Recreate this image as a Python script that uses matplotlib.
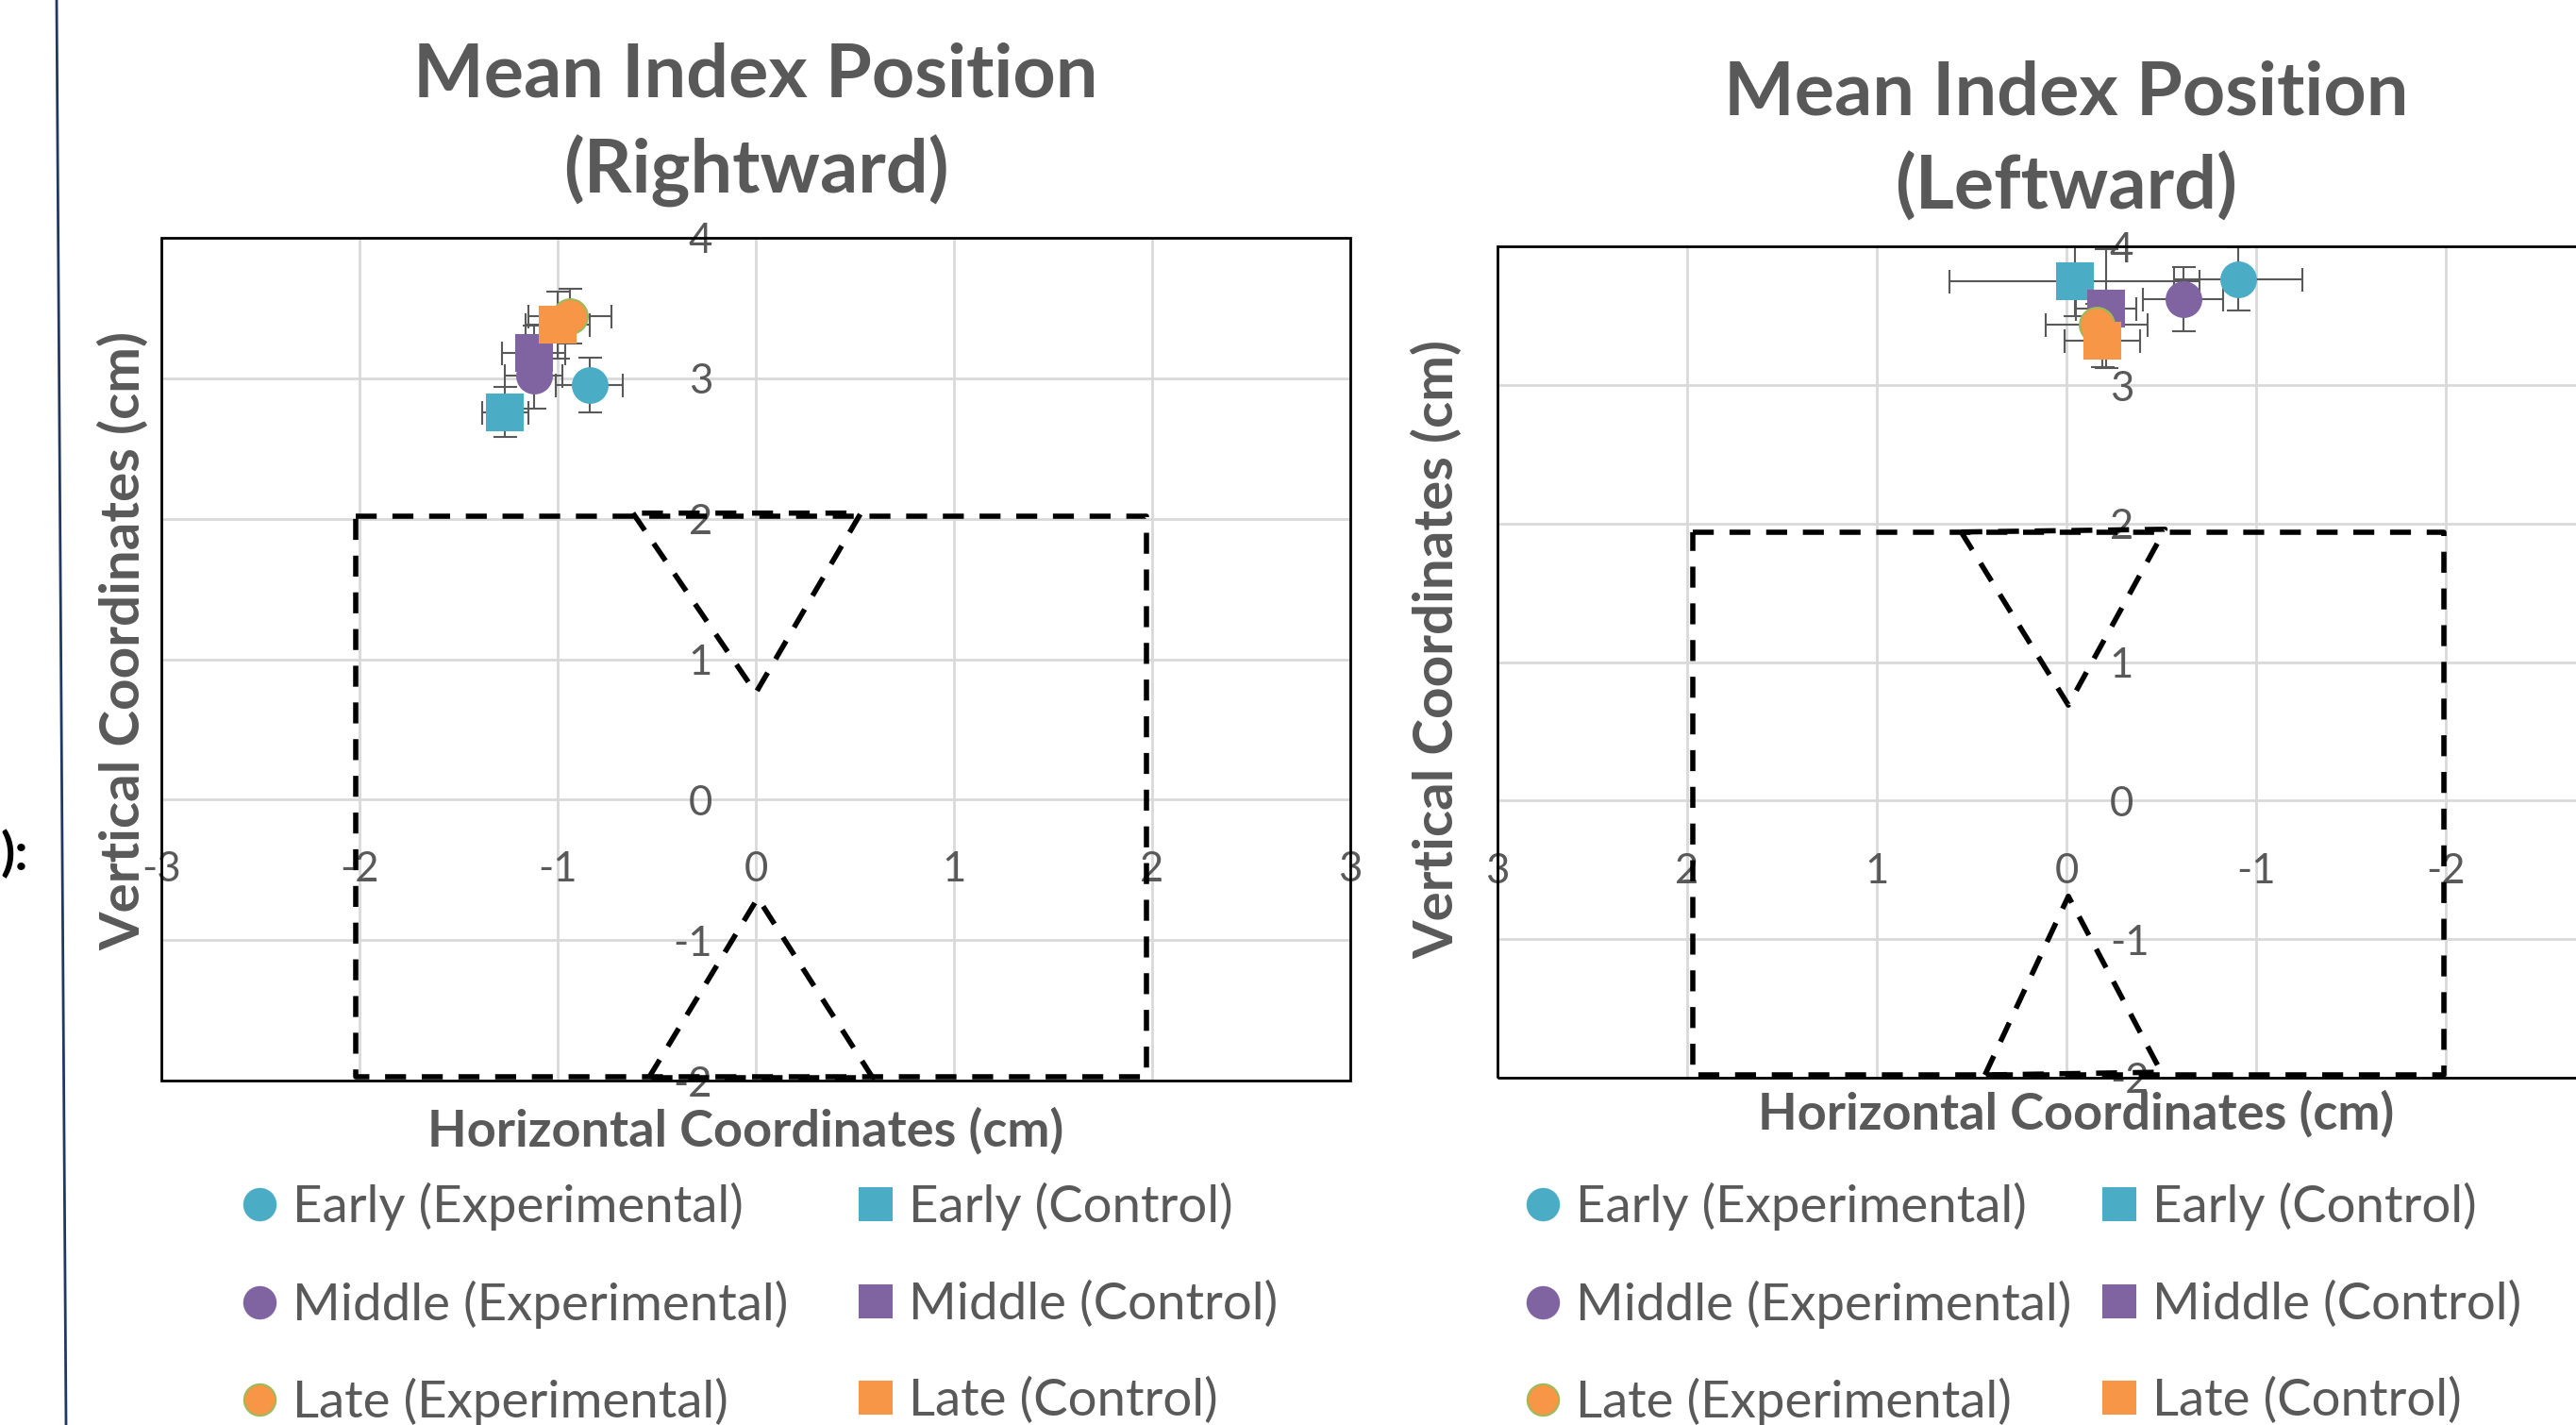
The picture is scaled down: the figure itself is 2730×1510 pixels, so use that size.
import matplotlib
matplotlib.use("Agg")
import matplotlib.pyplot as plt
from matplotlib.lines import Line2D
from matplotlib.patches import Rectangle

plt.rcParams['font.family'] = ['Lato', 'DejaVu Sans']
plt.rcParams['axes.unicode_minus'] = False

# === Series (Experimental / Control by trial phase) ===
labels = ["Early (Experimental)", "Early (Control)",
          "Middle (Experimental)", "Middle (Control)",
          "Late (Experimental)", "Late (Control)"]
markers = ["o", "s", "o", "s", "o", "s"]
colors = ["#4BACC6", "#4BACC6", "#8064A2", "#8064A2", "#F79646", "#F79646"]
edges = ["#4BACC6", "#4BACC6", "#8064A2", "#8064A2", "#9BBB59", "#F79646"]

# Rightward reaches
right_x = [-0.84, -1.265, -1.12, -1.12, -0.94, -1.00]
right_y = [2.95, 2.76, 3.02, 3.18, 3.44, 3.38]
right_xerr = [0.17, 0.115, 0.145, 0.16, 0.21, 0.16]
right_yerr = [0.195, 0.18, 0.235, 0.195, 0.195, 0.24]

# Leftward reaches
left_x = [-0.905, -0.043, -0.615, -0.21, -0.16, -0.19]
left_y = [3.766, 3.75, 3.62, 3.555, 3.44, 3.32]
left_xerr = [0.34, 0.66, 0.21, 0.16, 0.27, 0.20]
left_yerr = [0.23, 0.25, 0.23, 0.43, 0.15, 0.19]

# Outline of the target area (box plus two wedges)
r_box_x = [-2.02, 1.97, 1.97, -2.02, -2.02]
r_box_y = [2.02, 2.02, -1.97, -1.97, 2.02]
r_top_x = [-0.62, 0.0, 0.53, -0.62]
r_top_y = [2.04, 0.76, 2.04, 2.04]
r_bot_x = [-0.54, 0.01, 0.59, -0.54]
r_bot_y = [-1.98, -0.70, -1.98, -1.98]

l_box_x = [1.97, -1.99, -1.99, 1.97, 1.97]
l_box_y = [1.94, 1.94, -1.98, -1.98, 1.94]
l_top_x = [0.555, -0.01, -0.52, 0.555]
l_top_y = [1.94, 0.69, 1.96, 1.94]
l_bot_x = [0.43, -0.01, -0.50, 0.43]
l_bot_y = [-1.98, -0.69, -1.96, -1.98]

ticks_x = [-3, -2, -1, 0, 1, 2, 3]
ticks_x_rev = [-2, -1, 0, 1, 2, 3]
ticks_y = [-2, -1, 0, 1, 2, 3, 4]

GREY = "#595959"
W, H = 2730, 1510
fig = plt.figure(figsize=(W / 100, H / 100), dpi=100)


def draw_panel(ax, xs, ys, xerr, yerr, outlines, reverse):
    if reverse:
        ax.set_xlim(3, -3)
        ax.set_xticks(ticks_x_rev)
    else:
        ax.set_xlim(-3, 3)
        ax.set_xticks(ticks_x)
    ax.set_ylim(-2, 4)
    ax.set_yticks(ticks_y)
    ax.grid(True, color="#D9D9D9", lw=2)
    ax.set_axisbelow(True)
    for s in ax.spines.values():
        s.set_visible(False)
    # axes cross at the origin
    ax.spines['bottom'].set_position(('data', 0))
    if reverse:
        ax.yaxis.tick_right()
        ax.spines['right'].set_position(('data', 0))
    else:
        ax.spines['left'].set_position(('data', 0))
    ax.tick_params(axis='x', length=0, pad=39, labelsize=31.5, labelcolor=GREY)
    ax.tick_params(axis='y', length=0, pad=33, labelsize=31.5, labelcolor=GREY)
    ax.add_patch(Rectangle((0, 0), 1, 1, transform=ax.transAxes, fill=False,
                           ec="black", lw=2, zorder=10, clip_on=False))

    for ox, oy in outlines:
        ax.plot(ox, oy, color="black", lw=4, dashes=(4, 3), zorder=3)

    for i in range(len(labels)):
        ms = 26.5 if markers[i] == "o" else 28
        ax.errorbar(xs[i], ys[i], xerr=xerr[i], yerr=yerr[i], fmt=markers[i],
                    ms=ms, mfc=colors[i], mec=edges[i], mew=1.5,
                    ecolor=GREY, elinewidth=1.5, capsize=9, capthick=1.5,
                    zorder=4)


ax1 = fig.add_axes([171 / W, 1 - 1145 / H, 1260 / W, 893 / H])
draw_panel(ax1, right_x, right_y, right_xerr, right_yerr,
           [(r_box_x, r_box_y), (r_top_x, r_top_y), (r_bot_x, r_bot_y)], False)
ax1.set_title("Mean Index Position\n(Rightward)", fontsize=57, fontweight='bold',
              color=GREY, y=1.0526, pad=0, linespacing=1.44)

ax2 = fig.add_axes([1587 / W, 1 - 1142 / H, 1206 / W, 880.6 / H])
draw_panel(ax2, left_x, left_y, left_xerr, left_yerr,
           [(l_box_x, l_box_y), (l_top_x, l_top_y), (l_bot_x, l_bot_y)], True)
ax2.set_title("Mean Index Position\n(Leftward)", fontsize=57, fontweight='bold',
              color=GREY, y=1.0447, pad=0, linespacing=1.44)

for ax, xl, yl in [(ax1, (0.491, -0.060), (-0.032, 0.522)),
                   (ax2, (0.508, -0.043), (-0.053, 0.516))]:
    ax.set_xlabel("Horizontal Coordinates (cm)", fontsize=39, fontweight='bold', color=GREY)
    ax.set_ylabel("Vertical Coordinates (cm)", fontsize=42, fontweight='bold', color=GREY)
    ax.xaxis.set_label_coords(*xl)
    ax.yaxis.set_label_coords(*yl)
    ax.xaxis.label.set_va('center')
    ax.yaxis.label.set_va('center')


def legend_column(idx, x0):
    handles = [Line2D([], [], ls="none", marker=markers[i],
                      ms=24 if markers[i] == "o" else 25,
                      mfc=colors[i], mec=edges[i], mew=1.5) for i in idx]
    fig.legend(handles, [labels[i] for i in idx], loc="upper left",
               bbox_to_anchor=(x0, 0.1702), frameon=False, fontsize=39.3,
               labelcolor=GREY, handlelength=0.56, handletextpad=0.36,
               labelspacing=0.96, borderpad=0, borderaxespad=0)


legend_column([0, 2, 4], 260 / W)
legend_column([1, 3, 5], 913 / W)
legend_column([0, 2, 4], 1620 / W)
legend_column([1, 3, 5], 2231 / W)

# slide edge and neighbouring text
fig.add_artist(Line2D([60 / W, 70 / W], [1, 0], color="#1F3864", lw=2))
fig.text(30 / W, 1 - 905 / H, "):", ha="right", va="center", fontsize=40,
         fontweight="bold", color="black")

fig.savefig("out.png", dpi=100)
